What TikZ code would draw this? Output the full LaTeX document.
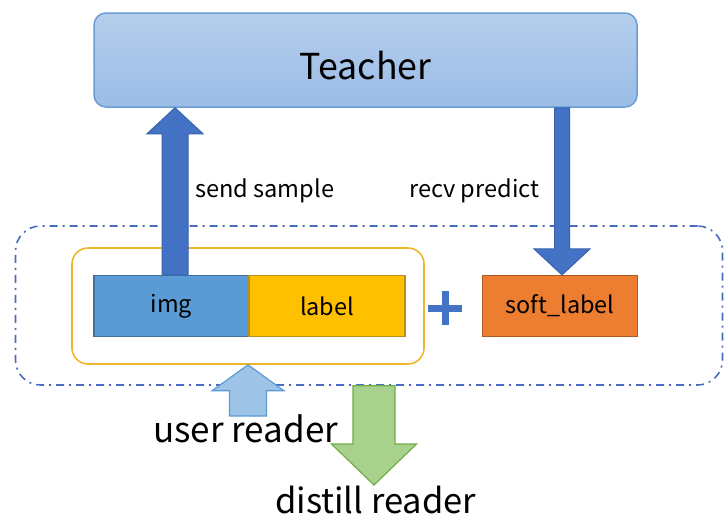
\documentclass[tikz,border=0pt]{standalone}
\usepackage{fontspec}
\setmainfont{Noto Sans CJK SC}
\usetikzlibrary{calc}

\definecolor{teacherTop}{HTML}{B5CEED}
\definecolor{teacherBot}{HTML}{9BBCE6}
\definecolor{teacherLine}{HTML}{6A9DD6}
\definecolor{flowBlue}{HTML}{4472C4}
\definecolor{flowLine}{HTML}{3A63AE}
\definecolor{imgFill}{HTML}{5B9BD5}
\definecolor{imgLine}{HTML}{41719C}
\definecolor{labelFill}{HTML}{FFC000}
\definecolor{labelLine}{HTML}{B89020}
\definecolor{softFill}{HTML}{ED7D31}
\definecolor{softLine}{HTML}{AE5A21}
\definecolor{groupLine}{HTML}{F0B62A}
\definecolor{outerLine}{HTML}{4A6CBF}
\definecolor{userFill}{HTML}{9DC3E6}
\definecolor{userLine}{HTML}{5B9BD5}
\definecolor{distFill}{HTML}{A9D18E}
\definecolor{distLine}{HTML}{70AD47}

% vertical block arrow: #1 style, #2 tail, #3 tip,
% #4 shaft half width, #5 head half width, #6 head length (signed, y down)
\newcommand\blockarrow[6][]{%
  \draw[#1] ($(#3|-#2)+(-#4,0)$) -- ($(#3)+(-#4,#6)$) -- ($(#3)+(-#5,#6)$)
    -- (#3) -- ($(#3)+(#5,#6)$) -- ($(#3)+(#4,#6)$) -- ($(#3|-#2)+(#4,0)$) -- cycle;}

\begin{document}
\begin{tikzpicture}[x=1pt,y=-1pt,
  cell/.style={draw, line width=1.2pt, minimum height=61pt, inner sep=0pt,
    font=\fontsize{23.4}{28}\selectfont},
  caption/.style={inner sep=0pt, anchor=base west, text=black},
  flowarrow/.style={fill=flowBlue, draw=flowLine, line width=1pt, line join=miter},
  userarrow/.style={fill=userFill, draw=userLine, line width=1.2pt},
  distarrow/.style={fill=distFill, draw=distLine, line width=1.2pt}]
\useasboundingbox (0,0) rectangle (725,528);

% dash-dot frame around the reader batch
\node[draw=outerLine, line width=1.6pt, rounded corners=25pt,
  dash pattern=on 8pt off 5pt on 2pt off 5pt,
  minimum width=707pt, minimum height=159pt] (outer) at (369,305.5) {};

% teacher service
\node[rounded corners=12pt, top color=teacherTop, bottom color=teacherBot,
  draw=teacherLine, line width=1.5pt, minimum width=543pt, minimum height=94pt,
  text height=38pt, text depth=0pt,
  font=\fontsize{35.7}{40}\selectfont] (teacher) at (365.5,60) {Teacher};

% sample pair and soft label
\node[draw=groupLine, line width=1.6pt, rounded corners=16pt,
  minimum width=352pt, minimum height=116pt] (group) at (248,306) {};
\node[cell, fill=imgFill, draw=imgLine, minimum width=155pt] (img) at (171.5,306) {img};
\node[cell, fill=labelFill, draw=labelLine, minimum width=156pt] (label) at (327,306) {label};
\node[cell, fill=softFill, draw=softLine, minimum width=155pt] (soft) at (560,306) {soft\_label};

% plus sign
\coordinate (plus) at (445,308);
\draw[flowBlue, line width=7pt] ($(plus)+(-17,0)$) -- ($(plus)+(17,0)$)
  ($(plus)+(0,-17)$) -- ($(plus)+(0,17)$);

% arrows to and from the teacher
\coordinate (sendx) at (175,0);
\coordinate (recvx) at (562,0);
\coordinate (sendtail) at (img.north -| sendx);
\coordinate (sendtip) at (teacher.south -| sendx);
\coordinate (recvtail) at (teacher.south -| recvx);
\coordinate (recvtip) at (soft.north -| recvx);
\blockarrow[flowarrow]{sendtail}{sendtip}{13}{28}{26}
\blockarrow[flowarrow]{recvtail}{recvtip}{7.5}{28}{-26}

\node[caption, font=\fontsize{23.6}{28}\selectfont] (send) at (195,197) {send sample};
\node[caption, font=\fontsize{23.6}{28}\selectfont] (recv) at (409,197) {recv predict};

% readers
\coordinate (userx) at (248,0);
\coordinate (usertail) at (248,416);
\coordinate (usertip) at (group.south -| userx);
\blockarrow[userarrow]{usertail}{usertip}{18.5}{36}{26}

\coordinate (distx) at (374,0);
\coordinate (disttail) at (outer.south -| distx);
\coordinate (disttip) at (374,485);
\blockarrow[distarrow]{disttail}{disttip}{21}{42.5}{-41}

\node[caption, font=\fontsize{35}{40}\selectfont] (user) at (153,442) {user reader};
\node[caption, font=\fontsize{34.5}{40}\selectfont] (dist) at (275,513) {distill reader};
\end{tikzpicture}
\end{document}
